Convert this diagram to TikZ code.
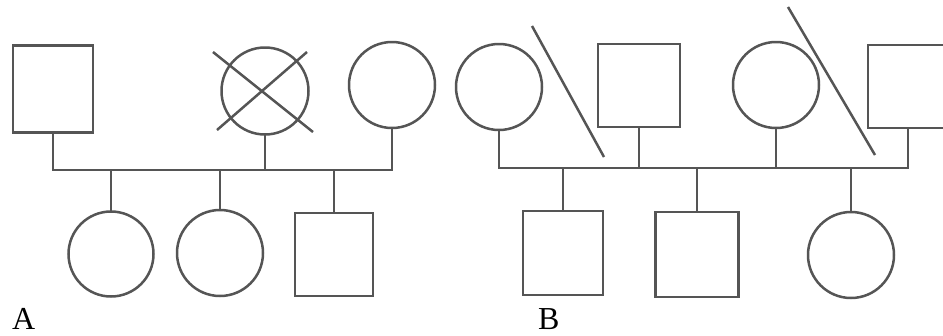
\documentclass[tikz,border=0pt]{standalone}
\usepackage{fontspec}
\setmainfont{Liberation Serif}
\usetikzlibrary{calc}
\definecolor{inkgray}{RGB}{85,85,85}
\begin{document}
\begin{tikzpicture}[x=1pt,y=-1pt,
  ped/.style={draw=inkgray,line width=2.5pt,inner sep=0pt,outer sep=0pt},
  male/.style={ped,rectangle},
  female/.style={ped,circle,minimum size=86pt},
  conn/.style={draw=inkgray,line width=2.5pt},
  lbl/.style={font=\fontsize{32}{32}\selectfont,anchor=base west,inner sep=0pt}]
\useasboundingbox (0,0) rectangle (943,335);
\clip (0,0) rectangle (943,335);
\fill[white] (0,0) rectangle (943,335);
% ---- Panel A ----
\node[male,minimum width=80pt,minimum height=87pt] (a1) at (53,89) {};
\node[female,minimum size=87pt] (a2) at (265,91) {};
\node[female] (a3) at (392,85) {};
\coordinate (lA) at (0,170);
\node[female,minimum size=85pt] (ac1) at (111,254) {};
\node[female] (ac2) at (220,253) {};
\node[male,minimum width=78pt,minimum height=83pt] (ac3) at (334,254.5) {};
\draw[conn] ($(a2)+(-52,-39)$) -- ($(a2)+(48,41)$);
\draw[conn] ($(a2)+(42,-39)$) -- ($(a2)+(-48,39)$);
\draw[conn] (a1.south) -- (a1.south |- lA) -- (a3.south |- lA) -- (a3.south);
\draw[conn] (a2.south) -- (a2.south |- lA);
\draw[conn] (ac1.north |- lA) -- (ac1.north);
\draw[conn] (ac2.north |- lA) -- (ac2.north);
\draw[conn] (ac3.north |- lA) -- (ac3.north);
% ---- Panel B ----
\node[female] (b1) at (499,87) {};
\node[male,minimum width=82pt,minimum height=83pt] (b2) at (639,85.5) {};
\node[female] (b3) at (776,85) {};
\node[male,minimum width=80pt,minimum height=83pt] (b4) at (908,86.5) {};
\coordinate (lB) at (0,168);
\node[male,minimum width=80pt,minimum height=84pt] (bc1) at (563,253) {};
\node[male,minimum width=83pt,minimum height=85pt] (bc2) at (697,254.5) {};
\node[female] (bc3) at (851,255) {};
\draw[conn] (532,26) -- (604,157);
\draw[conn] (788,7) -- (875,155);
\draw[conn] (b1.south) -- (b1.south |- lB) -- (b4.south |- lB) -- (b4.south);
\draw[conn] (b2.south) -- (b2.south |- lB);
\draw[conn] (b3.south) -- (b3.south |- lB);
\draw[conn] (bc1.north |- lB) -- (bc1.north);
\draw[conn] (bc2.north |- lB) -- (bc2.north);
\draw[conn] (bc3.north |- lB) -- (bc3.north);
% ---- labels ----
\node[lbl] (la) at (12,329) {A};
\node[lbl] (lb) at (538,329) {B};
\end{tikzpicture}
\end{document}
